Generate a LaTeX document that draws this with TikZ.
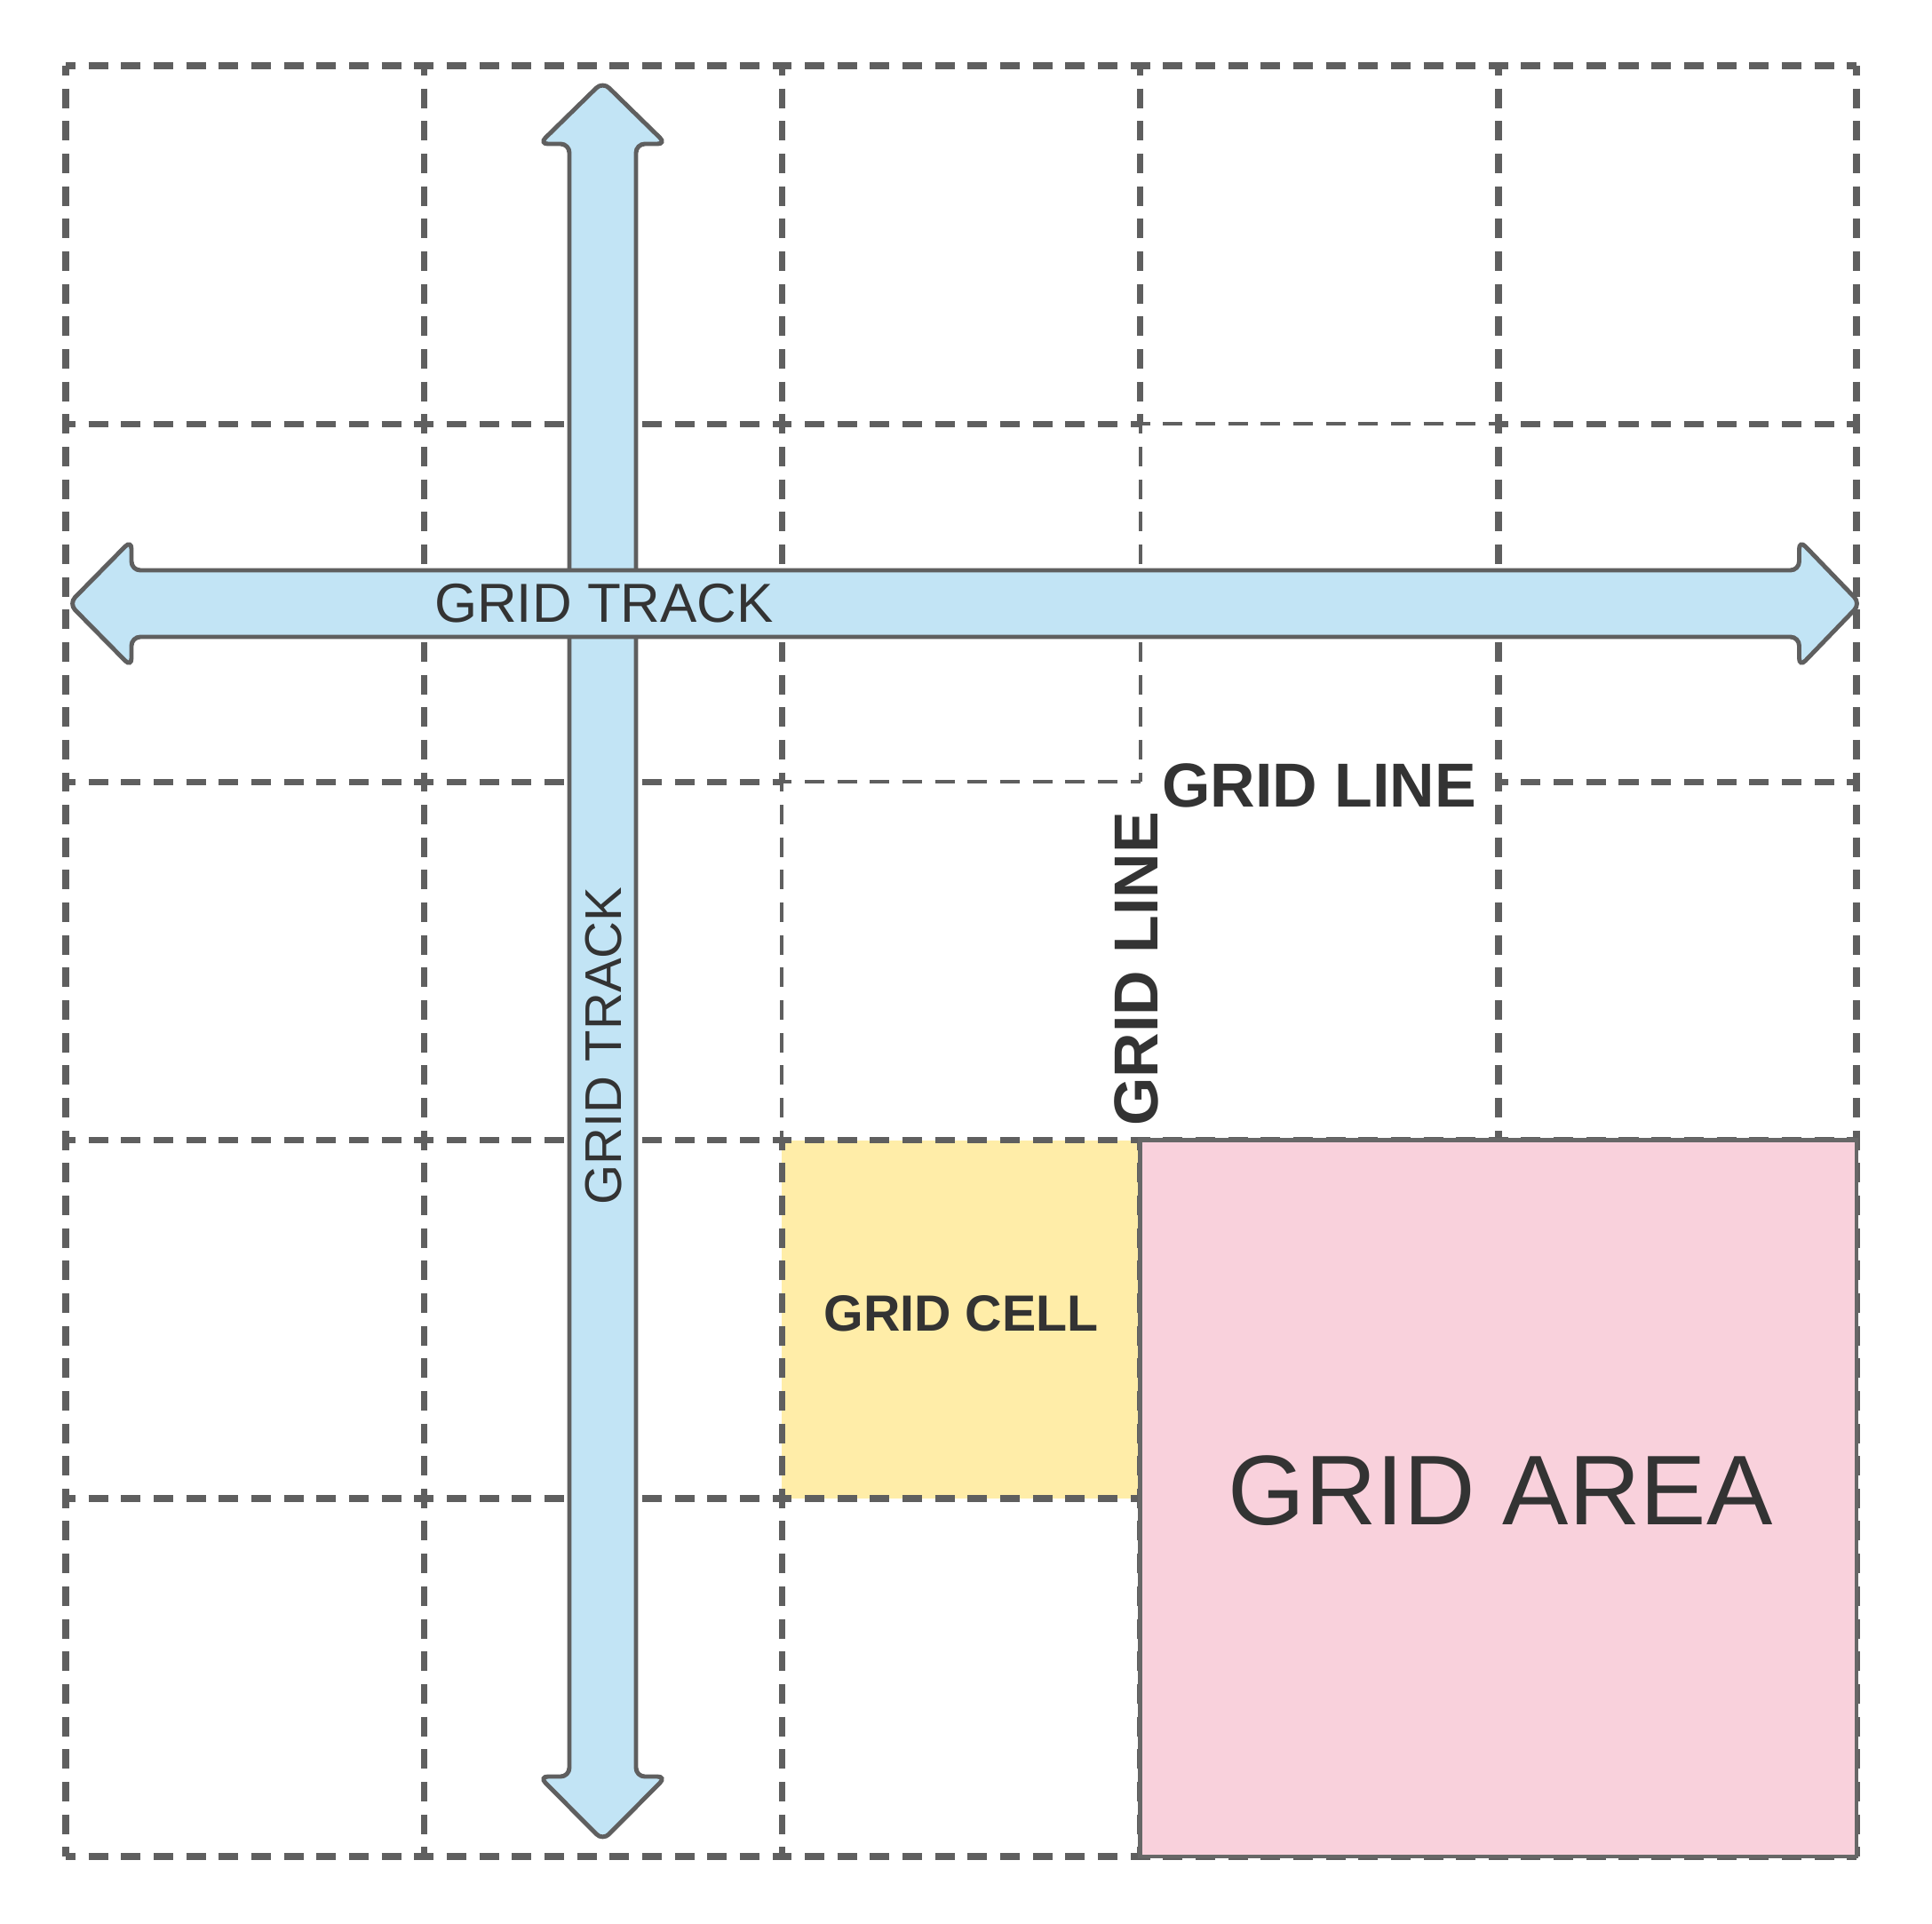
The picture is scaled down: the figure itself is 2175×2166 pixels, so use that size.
\documentclass[tikz,border=0pt]{standalone}
\usepackage{fontspec}
\setmainfont{Liberation Sans}
\usepackage{tikz}
\usetikzlibrary{positioning}
\definecolor{linecolor}{RGB}{95,95,95}
\definecolor{textcolor}{RGB}{51,51,51}
\definecolor{trackcolor}{RGB}{194,228,245}
\definecolor{cellcolor}{RGB}{255,237,168}
\definecolor{areacolor}{RGB}{249,209,220}

\begin{document}
\begin{tikzpicture}[x=0.01cm, y=-0.01cm,
    gridline/.style={draw=linecolor, line width=2.1pt, dash pattern=on 0.22cm off 0.1465cm, dash phase=0.11cm},
    thinline/.style={gridline, line width=1.1pt},
    track/.style={draw=linecolor, fill=trackcolor, line width=1.4pt, rounded corners=0.1cm},
    gridtext/.style={text=textcolor, inner sep=0pt}]
    \useasboundingbox (0,0) rectangle (2175,2166);

    % Grid Cell (fill only, lines on top)
    \fill[cellcolor] (880.4,1283.6) rectangle (1283.6,1686.8);

    % Grid Lines (thick)
    \foreach \r/\cs in {0/{0,1,2,3,4}, 1/{0,1,2,4}, 2/{0,1,4}, 3/{0,1,2,3,4}, 4/{0,1,2,3,4}, 5/{0,1,2,3,4}}
        \foreach \c in \cs
            \draw[gridline] ({74+403.2*\c},{74+403.2*\r}) -- ({74+403.2*(\c+1)},{74+403.2*\r});
    \foreach \c/\rs in {0/{0,1,2,3,4}, 1/{0,1,2,3,4}, 2/{0,1,3,4}, 3/{0,3,4}, 4/{0,1,2,3,4}, 5/{0,1,2,3,4}}
        \foreach \r in \rs
            \draw[gridline] ({74+403.2*\c},{74+403.2*\r}) -- ({74+403.2*\c},{74+403.2*(\r+1)});

    % Grid Lines (thin)
    \draw[thinline] (1283.6,477.2) -- (1686.8,477.2);
    \draw[thinline] (1283.6,477.2) -- (1283.6,880.4);
    \draw[thinline] (880.4,880.4) -- (1283.6,880.4);
    \draw[thinline] (880.4,880.4) -- (880.4,1283.6);

    % Grid Area
    \draw[draw=linecolor!95, fill=areacolor, line width=1.4pt] (1283.6,1283.6) rectangle (2090,2090);

    % Grid Tracks
    \draw[track] (678.5,92) -- (750,162) -- (716,162) -- (716,2000) -- (750,2000)
        -- (678.5,2072) -- (607,2000) -- (641,2000) -- (641,162) -- (607,162) -- cycle;
    \draw[track] (77.5,679.5) -- (148,608) -- (148,642) -- (2025.5,642) -- (2025.5,608)
        -- (2094.5,679.5) -- (2025.5,751) -- (2025.5,717) -- (148,717) -- (148,751) -- cycle;

    % Labels
    \node[gridtext, font=\fontsize{17.6}{20}\selectfont] (trackh) at (680,679.3) {GRID TRACK};
    \node[gridtext, font=\fontsize{16.5}{19}\selectfont, rotate=90] (trackv) at (679.5,1177.5) {GRID TRACK};
    \node[gridtext, font=\fontsize{19.9}{23}\selectfont\bfseries] (lineh) at (1485,884.5) {GRID LINE};
    \node[gridtext, font=\fontsize{19.9}{23}\selectfont\bfseries, rotate=90] (linev) at (1279,1091) {GRID LINE};
    \node[gridtext, font=\fontsize{16.3}{19}\selectfont\bfseries] (cell) at (1082,1479) {GRID CELL};
    \node[gridtext, font=\fontsize{31.7}{36}\selectfont] (area) at (1689,1678) {GRID AREA};
\end{tikzpicture}
\end{document}
